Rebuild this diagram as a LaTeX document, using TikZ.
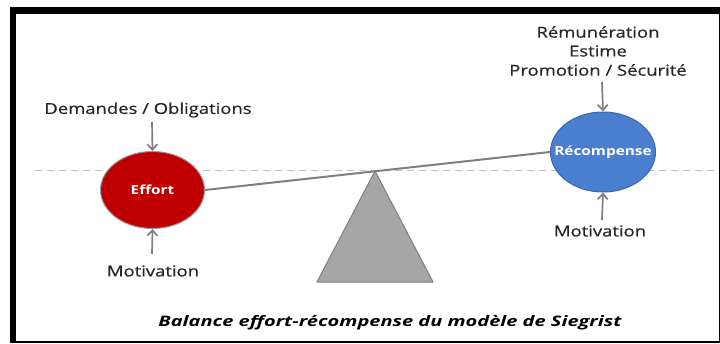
\documentclass[tikz,border=0pt]{standalone}
\usepackage{fontspec}
\setmainfont{Open Sans}[FakeStretch=1.23]
\newfontfamily\labfont{Open Sans}[FakeStretch=1.23,FakeBold=0.5]
\newfontfamily\capfont{Open Sans}[FakeStretch=1.38]
\usetikzlibrary{shapes.geometric,arrows.meta}
\definecolor{txt}{HTML}{262626}
\definecolor{beam}{HTML}{7F7F7F}
\definecolor{effred}{HTML}{C00000}
\definecolor{recblue}{HTML}{4A7FD0}
\definecolor{recedge}{HTML}{3A68AE}
\definecolor{trifill}{HTML}{A6A6A6}
\definecolor{dashc}{HTML}{BFBFBF}
\tikzset{
  lbl/.style={text=txt, font=\labfont\fontsize{15}{17}\selectfont, inner sep=0pt, align=center},
  pan/.style={ellipse, inner sep=0pt, line width=1pt},
  pantext/.style={text=white, inner sep=0pt, font=\bfseries\fontsize{12.5}{14}\selectfont},
  push/.style={draw=beam, line width=1.7pt, -{Straight Barb[length=5.5pt,width=10pt,line width=1.7pt]}},
}
\begin{document}
\begin{tikzpicture}[x=1pt,y=-1pt]
\useasboundingbox (0,0) rectangle (720,343);
\fill[white] (0,0) rectangle (720,343);
% frame
\fill[black] (10,7) rectangle (720,14);
\fill[black] (10,7) rectangle (16,343);
\fill[black] (10,341) rectangle (720,343);
\fill[black] (718.5,7) rectangle (720,343);
% dashed level line
\coordinate (dl) at (35,170);
\coordinate (dr) at (716,170);
\draw[dashc, line width=1pt, dash pattern=on 7pt off 5pt] (dl) -- (dr);
% fulcrum
\coordinate (apex) at (375,171);
\coordinate (bl) at (317,282);
\coordinate (br) at (433,282);
\draw[draw=beam, fill=trifill, line width=1pt, line join=round] (apex) -- (bl) -- (br) -- cycle;
% pans
\node[pan, fill=effred, draw=beam!80, minimum width=104pt, minimum height=77pt] (eff) at (152.5,190) {};
\node[pantext] (efft) at (eff.center) {Effort};
\node[pan, fill=recblue, draw=recedge, minimum width=105pt, minimum height=80pt] (rec) at (603,152) {};
\node[pantext] (rect) at (rec.center) {Récompense};
% beam
\draw[beam, line width=2pt] (eff.east) -- (rec.west);
% labels
\node[lbl] (dem) at (148,110) {Demandes / Obligations};
\node[lbl] (mot1) at (153,271) {Motivation};
\node[lbl] (r1) at (598,32) {Rémunération};
\node[lbl] (r2) at (598,51) {Estime};
\node[lbl] (r3) at (598,70) {Promotion / Sécurité};
\node[lbl] (mot2) at (600,231) {Motivation};
\node[text=black, inner sep=0pt, font=\capfont\bfseries\itshape\fontsize{14.5}{17}\selectfont] (cap) at (390,323) {Balance effort-récompense du modèle de Siegrist};
% arrows
\coordinate (a1s) at (152,122);
\coordinate (a2s) at (152,254);
\coordinate (a3s) at (602,82);
\coordinate (a4s) at (602,220);
\draw[push] (a1s) -- (eff.north);
\draw[push] (a2s) -- (eff.south);
\draw[push] (a3s) -- (rec.north);
\draw[push] (a4s) -- (rec.south);
\end{tikzpicture}
\end{document}
